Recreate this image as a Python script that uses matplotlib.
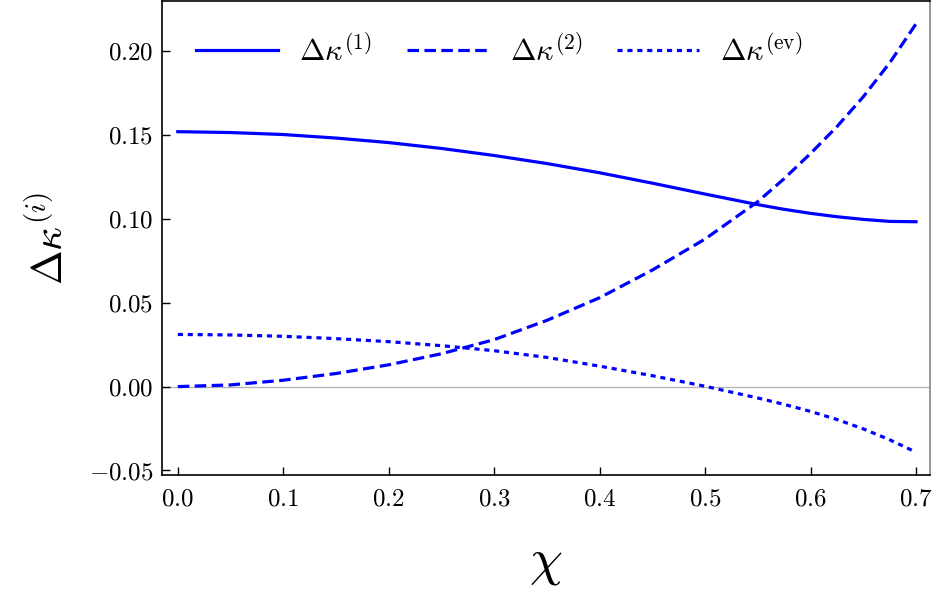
import matplotlib
matplotlib.use('Agg')
import matplotlib.pyplot as plt

plt.rcParams['font.family'] = 'serif'
plt.rcParams['font.serif'] = ['cmr10']
plt.rcParams['mathtext.fontset'] = 'cm'
plt.rcParams['axes.formatter.use_mathtext'] = True

# values
chi = [0.00, 0.05, 0.10, 0.15, 0.20, 0.25, 0.30, 0.35, 0.40, 0.45,
       0.50, 0.55, 0.575, 0.60, 0.625, 0.65, 0.675, 0.70]
dk1 = [0.1520, 0.1515, 0.1503, 0.1482, 0.1455, 0.1420, 0.1378, 0.1330, 0.1275, 0.1213,
       0.1148, 0.1085, 0.1057, 0.1033, 0.1013, 0.0997, 0.0985, 0.0983]
dk2 = [0.0000, 0.0010, 0.0038, 0.0078, 0.0130, 0.0196, 0.0280, 0.0395, 0.0530, 0.0695,
       0.0880, 0.1103, 0.1240, 0.1390, 0.1550, 0.1728, 0.1930, 0.2163]
dkev = [0.0311, 0.0308, 0.0300, 0.0286, 0.0268, 0.0244, 0.0214, 0.0174, 0.0122, 0.0065,
        0.0002, -0.0068, -0.0106, -0.0148, -0.0196, -0.0252, -0.0317, -0.0391]

labels = [r'$\Delta\kappa^{(1)}$', r'$\Delta\kappa^{(2)}$', r'$\Delta\kappa^{(\mathrm{ev})}$']

fig = plt.figure(figsize=(9.38, 6.03), dpi=100)
ax = fig.add_axes([0.1727, 0.2123, 0.8188, 0.7857])

ax.axhline(0, color='#b4b4b4', lw=1.0, zorder=1)
ax.plot(chi, dk1, color='#0000ff', lw=2.3, label=labels[0])
ax.plot(chi, dk2, color='#0000ff', lw=2.3, ls=(0, (3.6, 1.7)), label=labels[1])
ax.plot(chi, dkev, color='#0000ff', lw=2.3, ls=(0, (1.6, 1.5)), label=labels[2])

ax.set_xlim(-0.015, 0.7133)
ax.set_ylim(-0.0527, 0.2298)
ax.set_xticks([0.0, 0.1, 0.2, 0.3, 0.4, 0.5, 0.6, 0.7])
ax.set_yticks([-0.05, 0.0, 0.05, 0.10, 0.15, 0.20])
ax.tick_params(direction='in', length=6, width=1, labelsize=18)
ax.tick_params(axis='x', pad=10)
ax.tick_params(axis='y', pad=6)

for s in ['left', 'bottom', 'top']:
    ax.spines[s].set_color('black')
    ax.spines[s].set_linewidth(1.2)
ax.spines['right'].set_color('#888888')
ax.spines['right'].set_linewidth(1.2)

ax.set_xlabel(r'$\chi$', fontsize=38, labelpad=21)
ax.set_ylabel(r'$\Delta\kappa^{(i)}$', fontsize=30, labelpad=14)

ax.legend(loc='upper left', bbox_to_anchor=(0.009, 0.99), ncol=3, frameon=False,
          fontsize=22, handlelength=2.68, handletextpad=0.69, columnspacing=1.15)

fig.savefig('out.png', dpi=100)
